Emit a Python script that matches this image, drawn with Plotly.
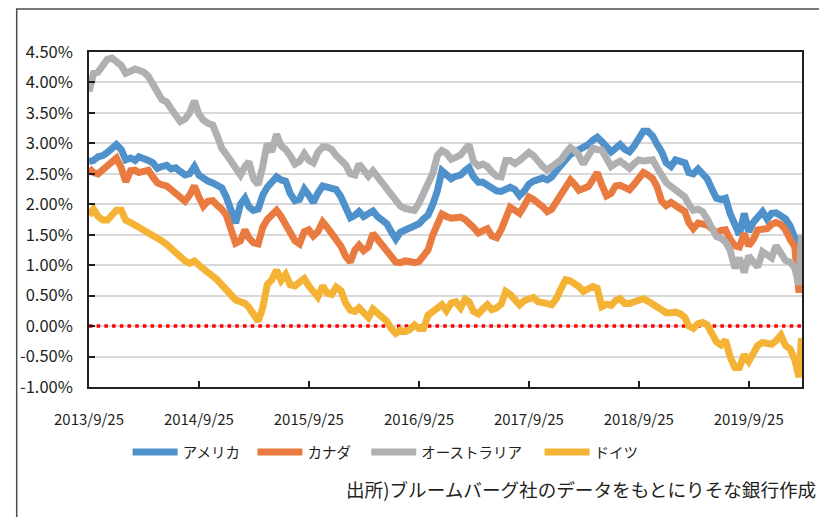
import plotly.graph_objects as go

# semi-monthly sampling dates (25th and 10th), last point 2020-03-18
dates = []
for i in range(78):
    y = 2013 + (9 + i - 1) // 12
    m = (9 + i - 1) % 12 + 1
    dates.append(f"{y}-{m:02d}-25")
    y2 = 2013 + (9 + i) // 12
    m2 = (9 + i) % 12 + 1
    dates.append(f"{y2}-{m2:02d}-10")
dates.append("2020-03-18")

usa = [
    2.70, 2.72, 2.78, 2.80, 2.85, 2.90, 2.98, 2.90, 2.73, 2.76, 2.72, 2.78,
    2.76, 2.72, 2.68, 2.59, 2.62, 2.64, 2.58, 2.60, 2.54, 2.48, 2.50, 2.62,
    2.48, 2.42, 2.38, 2.35, 2.32, 2.27, 2.12, 1.92, 1.69, 2.00, 2.10, 1.96,
    1.90, 1.92, 2.15, 2.28, 2.36, 2.45, 2.40, 2.38, 2.18, 2.06, 2.08, 2.25,
    2.15, 2.03, 2.18, 2.30, 2.28, 2.27, 2.24, 2.12, 1.98, 1.78, 1.82, 1.88,
    1.80, 1.84, 1.89, 1.80, 1.73, 1.68, 1.55, 1.43, 1.54, 1.58, 1.62, 1.65,
    1.68, 1.76, 1.82, 2.00, 2.22, 2.55, 2.50, 2.42, 2.46, 2.48, 2.55, 2.60,
    2.45, 2.36, 2.36, 2.32, 2.25, 2.22, 2.21, 2.24, 2.28, 2.24, 2.14, 2.22,
    2.33, 2.38, 2.42, 2.43, 2.40, 2.45, 2.55, 2.64, 2.74, 2.82, 2.86, 2.89,
    2.93, 2.98, 3.05, 3.10, 3.03, 2.94, 2.86, 2.92, 2.98, 2.90, 2.86, 2.96,
    3.08, 3.20, 3.20, 3.12, 2.98, 2.86, 2.68, 2.62, 2.73, 2.70, 2.68, 2.52,
    2.50, 2.58, 2.50, 2.42, 2.26, 2.10, 2.08, 2.10, 1.85, 1.65, 1.50, 1.85,
    1.55, 1.70, 1.80, 1.88, 1.76, 1.85, 1.86, 1.80, 1.76, 1.64, 1.45, 0.70,
    1.10,
]
canada = [
    2.59, 2.52, 2.50, 2.56, 2.62, 2.70, 2.76, 2.60, 2.37, 2.55, 2.56, 2.52,
    2.53, 2.56, 2.45, 2.35, 2.32, 2.30, 2.24, 2.18, 2.12, 2.05, 2.15, 2.30,
    2.12, 1.97, 2.05, 2.06, 1.98, 1.92, 1.82, 1.60, 1.36, 1.40, 1.58, 1.45,
    1.37, 1.35, 1.62, 1.75, 1.82, 1.90, 1.80, 1.68, 1.57, 1.40, 1.35, 1.55,
    1.58, 1.48, 1.55, 1.71, 1.62, 1.53, 1.42, 1.31, 1.15, 1.05, 1.25, 1.33,
    1.24, 1.30, 1.52, 1.42, 1.35, 1.25, 1.15, 1.05, 1.04, 1.07, 1.06, 1.04,
    1.06, 1.18, 1.25, 1.50, 1.68, 1.84, 1.80, 1.77, 1.78, 1.79, 1.75, 1.70,
    1.62, 1.53, 1.58, 1.60, 1.48, 1.45, 1.58, 1.75, 1.95, 1.90, 1.85, 1.98,
    2.12, 2.08, 2.03, 1.96, 1.88, 1.92, 2.04, 2.15, 2.30, 2.40, 2.32, 2.23,
    2.26, 2.29, 2.40, 2.52, 2.32, 2.14, 2.18, 2.30, 2.31, 2.27, 2.24, 2.33,
    2.43, 2.52, 2.48, 2.42, 2.28, 2.05, 1.98, 2.03, 1.98, 1.93, 1.88, 1.70,
    1.60, 1.69, 1.68, 1.66, 1.60, 1.53, 1.57, 1.58, 1.43, 1.32, 1.30, 1.52,
    1.32, 1.42, 1.58, 1.59, 1.60, 1.67, 1.70, 1.67, 1.58, 1.42, 1.30, 0.55,
    0.80,
]
australia = [
    3.85, 4.15, 4.17, 4.28, 4.38, 4.40, 4.35, 4.28, 4.15, 4.18, 4.22, 4.20,
    4.17, 4.10, 3.98, 3.85, 3.72, 3.68, 3.55, 3.46, 3.36, 3.40, 3.50, 3.70,
    3.48, 3.38, 3.33, 3.30, 3.12, 2.92, 2.82, 2.70, 2.55, 2.48, 2.62, 2.70,
    2.42, 2.32, 2.62, 3.00, 2.86, 3.15, 2.96, 2.90, 2.80, 2.66, 2.70, 2.83,
    2.72, 2.68, 2.85, 2.94, 2.94, 2.90, 2.80, 2.72, 2.65, 2.50, 2.48, 2.66,
    2.55, 2.46, 2.55, 2.45, 2.34, 2.25, 2.17, 2.04, 1.97, 1.93, 1.92, 1.90,
    2.02, 2.16, 2.35, 2.51, 2.80, 2.88, 2.84, 2.74, 2.77, 2.81, 2.90, 2.98,
    2.70, 2.63, 2.66, 2.62, 2.53, 2.46, 2.45, 2.72, 2.72, 2.67, 2.72, 2.77,
    2.85, 2.80, 2.70, 2.62, 2.56, 2.61, 2.66, 2.73, 2.84, 2.93, 2.88, 2.80,
    2.66, 2.78, 2.92, 2.90, 2.89, 2.75, 2.62, 2.67, 2.71, 2.65, 2.59, 2.67,
    2.73, 2.71, 2.71, 2.73, 2.60, 2.46, 2.36, 2.29, 2.24, 2.18, 2.12, 2.00,
    1.90, 1.92, 1.88, 1.76, 1.60, 1.47, 1.44, 1.38, 1.25, 0.95, 1.12, 0.88,
    1.15, 1.05, 0.97, 1.22, 1.18, 1.12, 1.32, 1.22, 1.08, 1.05, 0.95, 0.68,
    1.50,
]
germany = [
    1.82, 1.92, 1.80, 1.74, 1.74, 1.83, 1.90, 1.90, 1.74, 1.70, 1.66, 1.63,
    1.58, 1.54, 1.49, 1.44, 1.40, 1.34, 1.27, 1.19, 1.13, 1.07, 1.03, 1.07,
    1.00, 0.93, 0.86, 0.82, 0.76, 0.67, 0.58, 0.50, 0.43, 0.40, 0.37, 0.31,
    0.22, 0.08, 0.30, 0.68, 0.76, 0.92, 0.75, 0.85, 0.68, 0.66, 0.72, 0.78,
    0.66, 0.57, 0.48, 0.66, 0.54, 0.52, 0.64, 0.58, 0.38, 0.26, 0.24, 0.30,
    0.22, 0.14, 0.28, 0.22, 0.17, 0.08, -0.04, -0.12, -0.07, -0.09, -0.06, 0.02,
    -0.04, -0.04, 0.18, 0.25, 0.32, 0.35, 0.25, 0.38, 0.40, 0.30, 0.44, 0.40,
    0.24, 0.20, 0.28, 0.35, 0.27, 0.30, 0.36, 0.57, 0.52, 0.44, 0.35, 0.42,
    0.46, 0.47, 0.40, 0.37, 0.37, 0.35, 0.45, 0.62, 0.76, 0.74, 0.70, 0.65,
    0.57, 0.60, 0.65, 0.62, 0.32, 0.36, 0.34, 0.42, 0.45, 0.37, 0.37, 0.40,
    0.44, 0.45, 0.41, 0.36, 0.28, 0.25, 0.22, 0.22, 0.23, 0.20, 0.14, 0.00,
    -0.04, 0.04, 0.06, 0.02, -0.15, -0.26, -0.31, -0.23, -0.50, -0.68, -0.68, -0.47,
    -0.58, -0.42, -0.32, -0.27, -0.30, -0.30, -0.24, -0.15, -0.32, -0.38, -0.55, -0.84,
    -0.20,
]

series_names = ["アメリカ", "カナダ", "オーストラリア", "ドイツ"]
series_values = [usa, canada, australia, germany]
series_colors = ["#4F91CB", "#E97B40", "#B0B0B3", "#F5B335"]

for v in series_values:
    assert len(v) == len(dates), (len(v), len(dates))

x_range = ["2013-09-25", "2020-03-20"]
x_tick_vals = ["2013-09-25", "2014-09-25", "2015-09-25", "2016-09-25",
               "2017-09-25", "2018-09-25", "2019-09-25"]
x_tick_text = ["2013/9/25", "2014/9/25", "2015/9/25", "2016/9/25",
               "2017/9/25", "2018/9/25", "2019/9/25"]
y_tick_vals = [-1.0, -0.5, 0.0, 0.5, 1.0, 1.5, 2.0, 2.5, 3.0, 3.5, 4.0, 4.5]
y_tick_text = ["-1.00%", "-0.50%", "0.00%", "0.50%", "1.00%", "1.50%",
               "2.00%", "2.50%", "3.00%", "3.50%", "4.00%", "4.50%"]
zero_level = 0.0

source_text = "出所)ブルームバーグ社のデータをもとにりそな銀行作成"

FONT = "Noto Sans CJK JP, Noto Sans, sans-serif"
legend_ids = ["legend", "legend2", "legend3", "legend4"]
legend_x = [0.0542, 0.2292, 0.3889, 0.6319]   # left edge of each legend entry (paper)

fig = go.Figure()

# red dotted zero reference line (drawn first, beneath the series)
fig.add_trace(go.Scatter(
    x=x_range, y=[zero_level, zero_level], mode="lines", showlegend=False,
    hoverinfo="skip", line=dict(color="#FF0000", width=3.5, dash="3.5px,4.2px"),
))

for name, vals, col, lid in zip(series_names, series_values, series_colors, legend_ids):
    fig.add_trace(go.Scatter(
        x=dates, y=vals, mode="lines", name=name, legend=lid,
        line=dict(color=col, width=7),
    ))

# outer frame
fig.add_shape(type="rect", xref="paper", yref="paper",
              x0=-0.1014, x1=1.0278, y0=-0.45, y1=1.128,
              line=dict(color="#4d4d4d", width=1.5))

fig.add_annotation(text=source_text, xref="paper", yref="paper",
                   x=1.023, y=-0.302, xanchor="right", yanchor="middle",
                   showarrow=False, font=dict(family=FONT, size=18.6, color="#231F20"))

legend_common = dict(orientation="h", xanchor="left", y=-0.194, yanchor="middle",
                     font=dict(family=FONT, size=14.5, color="#231F20"),
                     bgcolor="rgba(0,0,0,0)", itemwidth=45)

fig.update_layout(
    width=827, height=517,
    margin=dict(l=74, r=33, t=44, b=138),
    paper_bgcolor="white", plot_bgcolor="white",
    font=dict(family=FONT, color="#231F20"),
    showlegend=True,
    legend=dict(x=legend_x[0], **legend_common),
    legend2=dict(x=legend_x[1], **legend_common),
    legend3=dict(x=legend_x[2], **legend_common),
    legend4=dict(x=legend_x[3], **legend_common),
    xaxis=dict(type="date", range=x_range,
               tickvals=x_tick_vals, ticktext=x_tick_text,
               ticks="inside", ticklen=6, tickwidth=1.5, tickcolor="#231F20",
               showgrid=False, zeroline=False,
               showline=True, linecolor="#231F20", linewidth=1.5, mirror=True,
               tickfont=dict(family=FONT, size=15, color="#231F20"),
               ticklabelstandoff=18),
    yaxis=dict(range=[-1.0, 4.5], tickvals=y_tick_vals, ticktext=y_tick_text,
               ticks="inside", ticklen=6, tickwidth=1.5, tickcolor="#231F20",
               showgrid=True, gridcolor="#D9D9D9", gridwidth=1.5, zeroline=False,
               showline=True, linecolor="#231F20", linewidth=1.5, mirror=True,
               tickfont=dict(family=FONT, size=16.5, color="#231F20"),
               ticklabelstandoff=11),
)

fig.write_html("out.html")
